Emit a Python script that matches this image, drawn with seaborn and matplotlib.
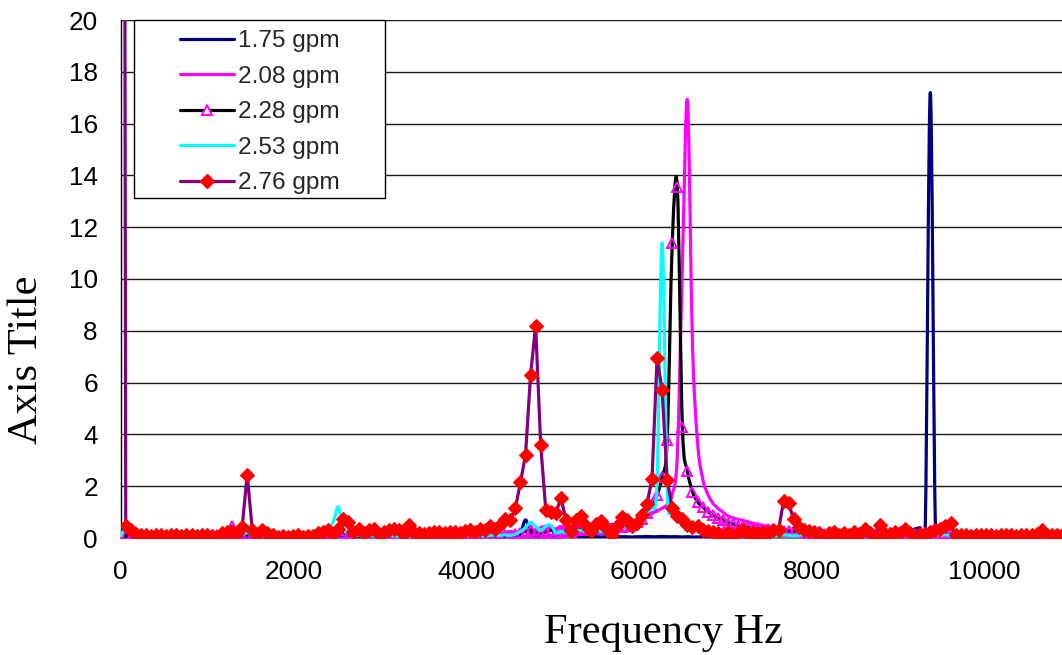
import numpy as np
import matplotlib
matplotlib.use("Agg")
import matplotlib.pyplot as plt
import seaborn as sns
from matplotlib.path import Path
from matplotlib.patches import PathPatch, Rectangle
from matplotlib.lines import Line2D

# FFT bin spacing of the measured spectra (Hz)
BIN_HZ = 58.6

LABELS = ["1.75 gpm", "2.08 gpm", "2.28 gpm", "2.53 gpm", "2.76 gpm"]

GPM_175 = [
    0.00, 0.05, 0.03, 0.02, 0.02, 0.03, 0.02, 0.02, 0.03, 0.02,
    0.02, 0.03, 0.02, 0.02, 0.03, 0.02, 0.02, 0.03, 0.02, 0.03,
    0.03, 0.02, 0.03, 0.02, 0.02, 0.04, 0.03, 0.02, 0.02, 0.03,
    0.02, 0.02, 0.03, 0.02, 0.02, 0.03, 0.02, 0.02, 0.03, 0.03,
    0.03, 0.04, 0.05, 0.06, 0.05, 0.04, 0.03, 0.03, 0.02, 0.03,
    0.02, 0.03, 0.03, 0.02, 0.03, 0.03, 0.02, 0.03, 0.03, 0.03,
    0.03, 0.02, 0.03, 0.03, 0.03, 0.02, 0.03, 0.03, 0.04, 0.03,
    0.03, 0.04, 0.03, 0.04, 0.04, 0.05, 0.04, 0.05, 0.06, 0.15,
    0.70, 0.18, 0.10, 0.08, 0.06, 0.05, 0.05, 0.04, 0.05, 0.04,
    0.04, 0.05, 0.04, 0.04, 0.05, 0.04, 0.05, 0.04, 0.05, 0.05,
    0.05, 0.04, 0.05, 0.05, 0.06, 0.05, 0.05, 0.06, 0.05, 0.05,
    0.05, 0.04, 0.05, 0.04, 0.04, 0.05, 0.04, 0.04, 0.05, 0.04,
    0.04, 0.05, 0.04, 0.05, 0.05, 0.06, 0.05, 0.06, 0.07, 0.08,
    0.09, 0.10, 0.10, 0.09, 0.08, 0.08, 0.07, 0.07, 0.08, 0.08,
    0.09, 0.10, 0.10, 0.11, 0.12, 0.12, 0.13, 0.14, 0.15, 0.16,
    0.10, 0.10, 0.11, 0.12, 0.13, 0.15, 0.25, 0.35, 0.40, 0.45,
    17.20, 0.45, 0.35, 0.12, 0.08, 0.06, 0.05, 0.04, 0.04, 0.03,
    0.03, 0.03, 0.03, 0.02, 0.03, 0.03, 0.02, 0.03, 0.03, 0.02,
    0.03, 0.02, 0.03, 0.03, 0.02, 0.03, 0.02,
]

GPM_208 = [
    0.05, 0.15, 0.10, 0.08, 0.10, 0.08, 0.12, 0.10, 0.08, 0.10,
    0.12, 0.10, 0.08, 0.12, 0.10, 0.08, 0.10, 0.12, 0.15, 0.12,
    0.15, 0.12, 0.10, 0.08, 0.15, 0.20, 0.15, 0.10, 0.12, 0.10,
    0.08, 0.10, 0.12, 0.10, 0.08, 0.10, 0.12, 0.10, 0.15, 0.20,
    0.25, 0.30, 0.35, 0.40, 0.30, 0.20, 0.15, 0.12, 0.10, 0.12,
    0.10, 0.12, 0.15, 0.12, 0.10, 0.12, 0.15, 0.12, 0.10, 0.12,
    0.15, 0.12, 0.15, 0.18, 0.15, 0.12, 0.15, 0.18, 0.20, 0.15,
    0.18, 0.20, 0.15, 0.18, 0.20, 0.15, 0.20, 0.25, 0.20, 0.25,
    0.30, 0.35, 0.30, 0.40, 0.45, 0.40, 0.35, 0.45, 0.40, 0.35,
    0.40, 0.45, 0.50, 0.45, 0.40, 0.50, 0.55, 0.50, 0.55, 0.60,
    0.62, 0.60, 0.68, 0.75, 0.85, 0.95, 1.05, 1.15, 1.30, 1.70,
    3.20, 10.50, 16.90, 7.50, 3.70, 2.30, 1.70, 1.35, 1.15, 1.00,
    0.85, 0.78, 0.72, 0.68, 0.62, 0.57, 0.52, 0.48, 0.44, 0.40,
    0.37, 0.33, 0.30, 0.28, 0.26, 0.25, 0.22, 0.20, 0.20, 0.18,
    0.20, 0.18, 0.15, 0.18, 0.20, 0.15, 0.18, 0.20, 0.15, 0.18,
    0.20, 0.18, 0.15, 0.18, 0.15, 0.18, 0.20, 0.18, 0.20, 0.22,
    0.25, 0.22, 0.20, 0.18, 0.15, 0.12, 0.10, 0.12, 0.10, 0.12,
    0.10, 0.12, 0.10, 0.08, 0.10, 0.12, 0.10, 0.12, 0.10, 0.08,
    0.10, 0.12, 0.15, 0.12, 0.10, 0.08, 0.10,
]

GPM_228 = [
    0.02, 0.10, 0.05, 0.03, 0.00, 0.02, 0.04, 0.00, 0.03, 0.02,
    0.00, 0.03, 0.05, 0.02, 0.00, 0.03, 0.04, 0.02, 0.05, 0.10,
    0.15, 0.20, 0.45, 0.00, 0.10, 0.15, 0.08, 0.02, 0.00, 0.05,
    0.03, 0.02, 0.04, 0.00, 0.03, 0.02, 0.05, 0.03, 0.02, 0.10,
    0.05, 0.15, 0.25, 0.30, 0.20, 0.10, 0.02, 0.05, 0.00, 0.05,
    0.08, 0.03, 0.05, 0.10, 0.05, 0.03, 0.08, 0.05, 0.10, 0.05,
    0.08, 0.10, 0.05, 0.08, 0.10, 0.06, 0.08, 0.10, 0.12, 0.08,
    0.10, 0.12, 0.08, 0.10, 0.12, 0.05, 0.10, 0.08, 0.15, 0.20,
    0.25, 0.30, 0.20, 0.15, 0.25, 0.30, 0.20, 0.25, 0.30, 0.25,
    0.30, 0.37, 0.30, 0.35, 0.40, 0.35, 0.38, 0.40, 0.45, 0.42,
    0.45, 0.50, 0.60, 0.72, 0.95, 1.20, 1.66, 2.37, 3.80, 11.40,
    13.56, 4.30, 2.59, 1.79, 1.40, 1.21, 1.02, 0.89, 0.76, 0.70,
    0.59, 0.54, 0.46, 0.45, 0.42, 0.40, 0.38, 0.36, 0.34, 0.32,
    0.30, 0.28, 0.26, 0.25, 0.23, 0.22, 0.20, 0.20, 0.18, 0.17,
    0.15, 0.15, 0.13, 0.12, 0.12, 0.10, 0.12, 0.10, 0.12, 0.15,
    0.12, 0.10, 0.12, 0.15, 0.12, 0.10, 0.12, 0.15, 0.18, 0.20,
    0.25, 0.22, 0.20, 0.18, 0.15, 0.12, 0.10, 0.08, 0.10, 0.08,
    0.06, 0.08, 0.10, 0.08, 0.06, 0.08, 0.10, 0.08, 0.06, 0.08,
    0.10, 0.08, 0.10, 0.12, 0.08, 0.06, 0.08,
]

GPM_253 = [
    0.05, 0.40, 0.15, 0.10, 0.08, 0.10, 0.08, 0.06, 0.08, 0.10,
    0.08, 0.06, 0.08, 0.10, 0.08, 0.06, 0.08, 0.10, 0.12, 0.15,
    0.15, 0.12, 0.15, 0.18, 0.15, 0.20, 0.12, 0.10, 0.08, 0.06,
    0.08, 0.06, 0.05, 0.08, 0.06, 0.05, 0.08, 0.10, 0.12, 0.15,
    0.25, 0.40, 0.62, 1.20, 0.35, 0.20, 0.12, 0.10, 0.08, 0.10,
    0.08, 0.06, 0.08, 0.10, 0.08, 0.06, 0.08, 0.05, 0.06, 0.08,
    0.06, 0.08, 0.05, 0.06, 0.08, 0.10, 0.08, 0.06, 0.08, 0.10,
    0.12, 0.10, 0.08, 0.10, 0.12, 0.10, 0.12, 0.10, 0.15, 0.25,
    0.40, 0.60, 0.45, 0.30, 0.45, 0.50, 0.20, 0.25, 0.20, 0.17,
    0.25, 0.30, 0.25, 0.40, 0.30, 0.25, 0.30, 0.45, 0.35, 0.40,
    0.45, 0.55, 0.65, 0.85, 1.00, 1.20, 2.20, 11.40, 1.90, 1.10,
    0.75, 0.55, 0.42, 0.35, 0.30, 0.25, 0.22, 0.20, 0.18, 0.15,
    0.15, 0.12, 0.15, 0.12, 0.10, 0.12, 0.10, 0.08, 0.10, 0.08,
    0.10, 0.12, 0.10, 0.08, 0.10, 0.12, 0.08, 0.10, 0.08, 0.06,
    0.08, 0.10, 0.08, 0.10, 0.12, 0.10, 0.12, 0.15, 0.20, 0.25,
    0.30, 0.20, 0.12, 0.10, 0.08, 0.10, 0.08, 0.10, 0.12, 0.15,
    0.12, 0.10, 0.15, 0.12, 0.10, 0.08, 0.06, 0.05, 0.06, 0.05,
    0.06, 0.05, 0.04, 0.05, 0.06, 0.05, 0.04, 0.05, 0.06, 0.05,
    0.04, 0.05, 0.06, 0.05, 0.04, 0.05, 0.04,
]

GPM_276 = [
    120.0, 0.45, 0.30, 0.15, 0.10, 0.12, 0.08, 0.12, 0.10, 0.08,
    0.12, 0.10, 0.06, 0.10, 0.12, 0.08, 0.10, 0.13, 0.08, 0.05,
    0.18, 0.22, 0.25, 0.18, 0.42, 2.45, 0.32, 0.12, 0.32, 0.20,
    0.10, 0.05, 0.08, 0.04, 0.06, 0.10, 0.05, 0.08, 0.06, 0.20,
    0.25, 0.30, 0.15, 0.35, 0.75, 0.62, 0.25, 0.35, 0.20, 0.30,
    0.35, 0.15, 0.25, 0.30, 0.35, 0.30, 0.15, 0.50, 0.20, 0.20,
    0.15, 0.20, 0.22, 0.25, 0.18, 0.22, 0.25, 0.20, 0.28, 0.30,
    0.25, 0.35, 0.30, 0.45, 0.35, 0.50, 0.75, 0.70, 1.15, 2.15,
    3.20, 6.30, 8.20, 3.60, 1.10, 1.00, 0.97, 1.56, 0.70, 0.27,
    0.70, 0.85, 0.46, 0.28, 0.53, 0.67, 0.37, 0.12, 0.46, 0.80,
    0.70, 0.46, 0.59, 0.89, 1.31, 2.28, 6.95, 5.70, 2.24, 1.15,
    0.85, 0.72, 0.50, 0.44, 0.46, 0.31, 0.27, 0.24, 0.20, 0.08,
    0.24, 0.08, 0.20, 0.30, 0.15, 0.25, 0.10, 0.22, 0.18, 0.30,
    0.31, 1.43, 1.34, 0.72, 0.44, 0.31, 0.28, 0.25, 0.20, 0.03,
    0.20, 0.25, 0.10, 0.20, 0.12, 0.22, 0.15, 0.33, 0.20, 0.05,
    0.50, 0.15, 0.15, 0.24, 0.18, 0.33, 0.20, 0.05, 0.15, 0.15,
    0.25, 0.30, 0.35, 0.46, 0.59, 0.10, 0.12, 0.10, 0.08, 0.12,
    0.10, 0.10, 0.12, 0.08, 0.10, 0.12, 0.10, 0.08, 0.10, 0.12,
    0.10, 0.15, 0.30, 0.12, 0.10, 0.12, 0.10,
]

FREQ = np.arange(len(GPM_276)) * BIN_HZ

COLORS = {
    "1.75 gpm": "#000080",
    "2.08 gpm": "#FF00FF",
    "2.28 gpm": "#000000",
    "2.53 gpm": "#00FFFF",
    "2.76 gpm": "#800080",
}
LW = 2.3
DIAMOND_MS = 7
TRIANGLE_MS = 6.5


def smooth_path(x, y, tension=1.0 / 6.0):
    """Cubic Bezier path through every sample (spreadsheet-style smoothed line)."""
    pts = np.column_stack([x, y]).astype(float)
    n = len(pts)
    verts = [pts[0]]
    codes = [Path.MOVETO]
    for i in range(n - 1):
        p0 = pts[max(i - 1, 0)]
        p1 = pts[i]
        p2 = pts[i + 1]
        p3 = pts[min(i + 2, n - 1)]
        verts += [p1 + (p2 - p0) * tension, p2 - (p3 - p1) * tension, p2]
        codes += [Path.CURVE4] * 3
    return Path(verts, codes)


sns.set_theme(style="white")
plt.rcParams["font.family"] = ["Liberation Sans", "DejaVu Sans"]

W, H = 1062, 655
fig = plt.figure(figsize=(W / 100, H / 100), dpi=100)
x0, y_top, y_bot = 120.7, 20, 538
ax = fig.add_axes([x0 / W, 1 - y_bot / H, (W - x0) / W, (y_bot - y_top) / H])

# smoothed series, drawn in series order
for name, vals in [("1.75 gpm", GPM_175), ("2.08 gpm", GPM_208), ("2.28 gpm", GPM_228)]:
    ax.add_patch(PathPatch(smooth_path(FREQ, vals), fill=False,
                           edgecolor=COLORS[name], lw=LW, joinstyle="round", zorder=3))

sns.lineplot(x=FREQ, y=GPM_228, ax=ax, linestyle="none", marker="^",
             markersize=TRIANGLE_MS, markerfacecolor="none", markeredgecolor="#FF00FF",
             markeredgewidth=1.4, zorder=3)

ax.add_patch(PathPatch(smooth_path(FREQ, GPM_253), fill=False,
                       edgecolor=COLORS["2.53 gpm"], lw=LW, joinstyle="round", zorder=3))

sns.lineplot(x=FREQ, y=GPM_276, ax=ax, color=COLORS["2.76 gpm"], lw=LW,
             marker="D", markersize=DIAMOND_MS, markerfacecolor="#FF0000",
             markeredgecolor="#FF0000", markeredgewidth=0.8, zorder=4)

ax.set_xlim(0, (W - x0) / 0.08635)
ax.set_ylim(0, 20)
ax.set_xticks(np.arange(0, 10001, 2000))
ax.set_yticks(np.arange(0, 21, 2))
ax.tick_params(axis="both", direction="out", length=5, width=1, color="#333333",
               labelsize=18.8, labelcolor="black")
ax.tick_params(axis="y", pad=11.5)
ax.tick_params(axis="x", pad=11)
ax.yaxis.grid(True, color="#1a1a1a", lw=1.0)
ax.xaxis.grid(False)
ax.set_axisbelow(True)
for side in ("top", "right"):
    ax.spines[side].set_visible(False)
ax.spines["left"].set_color("black")
ax.spines["left"].set_linewidth(1.0)
ax.spines["bottom"].set_color("#808080")
ax.spines["bottom"].set_linewidth(1.5)

serif = ["Liberation Serif", "DejaVu Serif"]
ax.set_xlabel("Frequency Hz", fontsize=30.5, family=serif, color="black")
ax.xaxis.set_label_coords((663 - x0) / (W - x0), (y_bot - 633) / (y_bot - y_top))
ax.xaxis.label.set_va("center")
ax.set_ylabel("Axis Title", fontsize=30.5, family=serif, color="black")
ax.yaxis.set_label_coords((27 - x0) / (W - x0), (y_bot - 360) / (y_bot - y_top))
ax.yaxis.label.set_va("center")

# legend box
aw, ah = W - x0, y_bot - y_top
ax.add_patch(Rectangle(((134 - x0) / aw, (y_bot - 198) / ah), 251 / aw, 178 / ah,
                       transform=ax.transAxes, facecolor="white", edgecolor="black",
                       lw=1.0, zorder=10, clip_on=False))
handles = [
    Line2D([], [], color=COLORS["1.75 gpm"], lw=LW),
    Line2D([], [], color=COLORS["2.08 gpm"], lw=LW),
    Line2D([], [], color=COLORS["2.28 gpm"], lw=LW, marker="^", markersize=TRIANGLE_MS,
           markerfacecolor="white", markeredgecolor="#FF00FF", markeredgewidth=1.4),
    Line2D([], [], color=COLORS["2.53 gpm"], lw=LW),
    Line2D([], [], color=COLORS["2.76 gpm"], lw=LW, marker="D", markersize=DIAMOND_MS,
           markerfacecolor="#FF0000", markeredgecolor="#FF0000"),
]
leg = ax.legend(handles, LABELS, loc="upper left",
                bbox_to_anchor=((180 - x0) / aw, (y_bot - 30) / ah),
                frameon=False, borderpad=0, borderaxespad=0, handlelength=2.2,
                handletextpad=0.17, labelspacing=0.55, fontsize=17.6)
leg.set_zorder(11)

fig.savefig("out.png", dpi=100)
